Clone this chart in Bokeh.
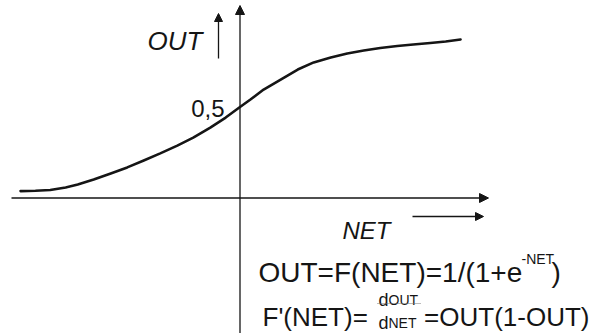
from bokeh.plotting import figure
from bokeh.models import Range1d, Arrow, NormalHead
from bokeh.core.properties import value
from bokeh.embed import file_html
from bokeh.resources import INLINE

# ---- data (sigmoid sketch) ----
net = [-3.99, -3.72, -3.45, -3.17, -2.95, -2.66, -2.35, -2.05, -1.75, -1.45,
       -1.14, -0.85, -0.54, -0.26, 0.0, 0.19, 0.43, 0.74, 1.05, 1.34,
       1.65, 1.95, 2.25, 2.55, 2.86, 3.15, 3.46, 3.74, 4.01]
out = [0.038, 0.040, 0.044, 0.058, 0.074, 0.102, 0.135, 0.168, 0.206, 0.245,
       0.288, 0.332, 0.387, 0.442, 0.5, 0.541, 0.596, 0.651, 0.706, 0.745,
       0.772, 0.794, 0.810, 0.824, 0.835, 0.843, 0.852, 0.860, 0.871]

y_label = "OUT"
x_label = "NET"
half_label = "0,5"
formula1_main = "OUT=F(NET)=1/(1+e"
formula1_sup = "-NET"
formula1_end = ")"
formula2_left = "F'(NET)="
frac_d = "d"
frac_num = "OUT"
frac_den = "NET"
formula2_right = "=OUT(1-OUT)"

# ---- layout ----
W, H = 591, 333
X0, Y0 = 239.5, 197.5      # pixel of the origin
SX, SY = 55.0, 182.0        # pixels per unit


def dx(px):
    return (px - X0) / SX


def dy(py):
    return (Y0 - py) / SY


p = figure(width=W, height=H, output_backend="svg", toolbar_location=None,
           x_range=Range1d(dx(0), dx(W)), y_range=Range1d(dy(H), dy(0)),
           x_axis_type=None, y_axis_type=None,
           min_border=0, min_border_left=0, min_border_right=0,
           min_border_top=0, min_border_bottom=0)
p.grid.visible = False
p.outline_line_color = None
p.background_fill_color = "white"
p.border_fill_color = "white"

INK = "#151515"

# axes with arrow heads
p.add_layout(Arrow(end=NormalHead(size=9, fill_color=INK, line_color=INK),
                   x_start=dx(11), y_start=0, x_end=dx(488), y_end=0,
                   line_color=INK, line_width=1.3))
p.add_layout(Arrow(end=NormalHead(size=9, fill_color=INK, line_color=INK),
                   x_start=0, y_start=dy(340), x_end=0, y_end=dy(5),
                   line_color=INK, line_width=1.3))
# small direction arrows next to labels
p.add_layout(Arrow(end=NormalHead(size=8, fill_color=INK, line_color=INK),
                   x_start=dx(218), y_start=dy(58), x_end=dx(218), y_end=dy(13),
                   line_color=INK, line_width=1.3))
p.add_layout(Arrow(end=NormalHead(size=8, fill_color=INK, line_color=INK),
                   x_start=dx(412), y_start=dy(216), x_end=dx(483), y_end=dy(216),
                   line_color=INK, line_width=1.3))

# curve
p.line(net, out, line_width=2.6, line_color=INK, line_join="round", line_cap="round")


def T(px, py, s, size, style="normal", align="left"):
    p.text(x=[dx(px)], y=[dy(py)], text=[s],
           text_font=value("Liberation Sans"), text_font_size=value(f"{size}px"),
           text_font_style=style, text_align=align, text_baseline="alphabetic",
           text_color=INK)


T(147, 40, y_label, 26, "italic")
T(224, 108, half_label, 24, "normal", "right")
T(342, 230, x_label, 24, "italic")

T(258, 272, formula1_main, 28)
T(521, 258, formula1_sup, 14)
T(551, 272, formula1_end, 28)

T(262, 316, formula2_left, 26)
T(378, 299, frac_d, 18)
T(388, 299, frac_num, 14)
T(378, 322, frac_d, 18)
T(388, 322, frac_den, 14)
p.segment(x0=[dx(377)], y0=[dy(303)], x1=[dx(420)], y1=[dy(303)],
          line_color="#777", line_width=1, line_dash="1 1")
T(589, 316, formula2_right, 26, "normal", "right")

open("out.html", "w").write(file_html(p, INLINE))
